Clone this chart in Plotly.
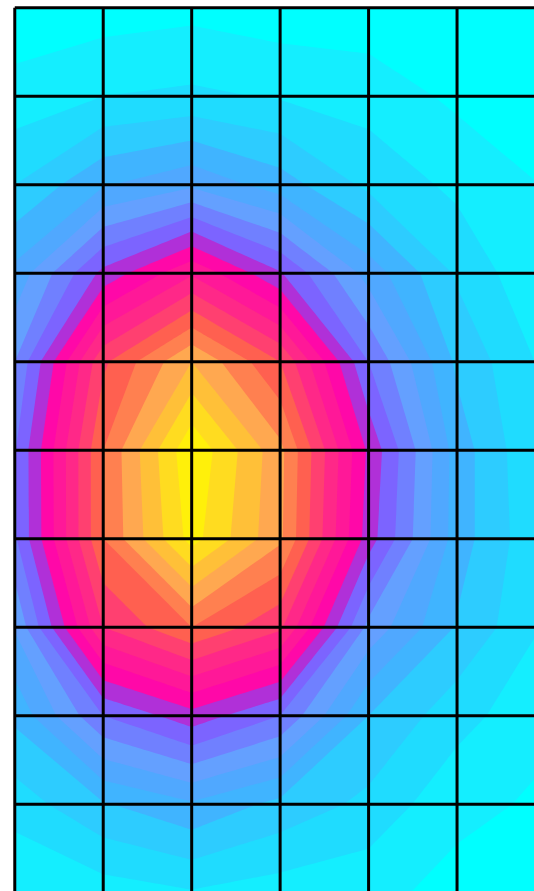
import plotly.graph_objects as go

x_nodes = [0, 1, 2, 3, 4, 5, 6]
y_nodes = [0, 1, 2, 3, 4, 5, 6, 7, 8, 9, 10]
z_rows = [
    [0.3, 0.5, 0.7, 0.4, 0.4, 0.1, 0.0],
    [1.4, 2.0, 2.2, 1.9, 1.56, 0.8, 0.0],
    [3.0, 4.9, 5.8, 4.5, 2.75, 1.75, 0.95],
    [5.3, 9.3, 11.85, 9.1, 5.6, 2.85, 1.0],
    [7.0, 13.8, 17.0, 14.0, 8.0, 3.8, 1.75],
    [7.9, 15.0, 19.85, 16.3, 9.8, 4.55, 1.8],
    [7.85, 15.0, 19.4, 16.2, 9.5, 4.5, 2.0],
    [6.1, 13.0, 15.0, 13.2, 6.7, 3.9, 1.9],
    [4.23, 8.0, 9.6, 8.0, 4.0, 2.4, 1.2],
    [2.45, 3.9, 4.85, 3.7, 2.73, 1.25, 0.85],
    [1.0, 1.5, 1.9, 1.5, 1.28, 0.69, 0.3],
]
band_colors = [
    "#00ffff", "#14eeff", "#1fdcff", "#2dccff", "#40b4ff", "#50a8ff", "#64a0ff",
    "#7080ff", "#7c64ff", "#b030d8", "#ff08a8", "#ff1898", "#ff2888", "#ff4070",
    "#ff6050", "#ff8050", "#ffa850", "#ffc038", "#ffdc20", "#fff00a",
]

n = len(band_colors)
scale = []
for i, c in enumerate(band_colors):
    scale.append([i / n, c])
    scale.append([(i + 1) / n, c])

fig = go.Figure(go.Contour(
    x=x_nodes, y=y_nodes, z=z_rows,
    zmin=0, zmax=n, colorscale=scale, showscale=False,
    autocontour=False,
    contours=dict(start=0, end=n, size=1, coloring="fill", showlines=False),
    line=dict(width=0, smoothing=0),
    hoverinfo="skip",
))

# Grid drawn above the filled contour, from the same node arrays.
gx, gy = [], []
for xv in x_nodes:
    gx += [xv, xv, None]
    gy += [y_nodes[0], y_nodes[-1], None]
for yv in y_nodes:
    gx += [x_nodes[0], x_nodes[-1], None]
    gy += [yv, yv, None]
fig.add_trace(go.Scatter(x=gx, y=gy, mode="lines",
                         line=dict(color="#000000", width=3),
                         hoverinfo="skip", showlegend=False))

axis = dict(showgrid=False, zeroline=False, showticklabels=False, ticks="", showline=False)
fig.update_xaxes(range=[-0.02, 5.87], **axis)
fig.update_yaxes(range=[9.98, -0.02], **axis)
fig.update_layout(width=534, height=891, margin=dict(l=13, r=0, t=6, b=0),
                  paper_bgcolor="#ffffff", plot_bgcolor="#ffffff", showlegend=False)
fig.write_html("out.html", config={"displayModeBar": False},
               post_script="document.body.style.margin='0';")
